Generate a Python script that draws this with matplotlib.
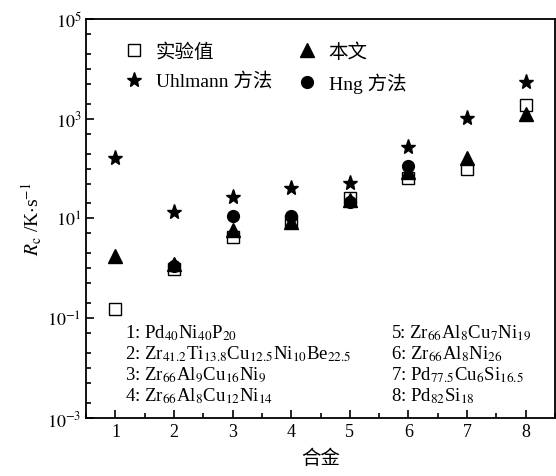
import matplotlib
matplotlib.use("Agg")
import matplotlib.pyplot as plt
import matplotlib.ticker as mticker
import numpy as np

plt.rcParams['font.family'] = ['Liberation Serif', 'Noto Sans CJK SC', 'DejaVu Sans']
plt.rcParams['mathtext.fontset'] = 'stix'

# alloy index
alloys = [1, 2, 3, 4, 5, 6, 7, 8]
# critical cooling rates, K/s
exp_vals = [0.15, 0.95, 4.2, 9.0, 26, 65, 98, 1900]
this_work = [1.8, 1.2, 5.8, 8.5, 24, 85, 165, 1250]
uhlmann = [160, 13.5, 27, 41, 51, 275, 1050, 5400]
hng = [np.nan, 1.1, 11, 11, 21, 115, np.nan, np.nan]

labels_left = [r"1: Pd$_{40}$Ni$_{40}$P$_{20}$",
               r"2: Zr$_{41.2}$Ti$_{13.8}$Cu$_{12.5}$Ni$_{10}$Be$_{22.5}$",
               r"3: Zr$_{66}$Al$_{9}$Cu$_{16}$Ni$_{9}$",
               r"4: Zr$_{66}$Al$_{8}$Cu$_{12}$Ni$_{14}$"]
labels_right = [r"5: Zr$_{66}$Al$_{8}$Cu$_{7}$Ni$_{19}$",
                r"6: Zr$_{66}$Al$_{8}$Ni$_{26}$",
                r"7: Pd$_{77.5}$Cu$_{6}$Si$_{16.5}$",
                r"8: Pd$_{82}$Si$_{18}$"]

fig = plt.figure(figsize=(5.56, 4.77), dpi=100)
ax = fig.add_axes([0.155, 0.1216, 0.843, 0.8366])

h_exp, = ax.plot(alloys, exp_vals, "s", ms=8.5, mfc="white", mec="black", mew=1.0, label="实验值", zorder=2)
h_tw, = ax.plot(alloys, this_work, "^", ms=9.5, color="black", label="本文", zorder=3)
h_uh, = ax.plot(alloys, uhlmann, "*", ms=11, color="black", label="Uhlmann 方法", zorder=4)
h_hng, = ax.plot(alloys, hng, "o", ms=8.5, color="black", label="Hng 方法", zorder=3)

ax.set_yscale("log")
ax.set_ylim(1e-3, 1e5)
ax.set_xlim(0.5, 8.5)
ax.set_xticks(alloys)
ax.xaxis.set_minor_locator(mticker.MultipleLocator(0.5))
ax.yaxis.set_major_locator(mticker.FixedLocator([1e-3, 1e-1, 1e1, 1e3, 1e5]))
ax.yaxis.set_major_formatter(mticker.FuncFormatter(lambda v, p: r"$10^{%d}$" % round(np.log10(v))))
minors = []
for e in range(-3, 5):
    for s in [2, 5, 10]:
        v = s * 10.0 ** e
        if v < 1e5 and round(np.log10(v), 6) % 2 != 1:
            minors.append(v)
ax.yaxis.set_minor_locator(mticker.FixedLocator(minors))
ax.yaxis.set_minor_formatter(mticker.NullFormatter())
ax.tick_params(which="both", direction="in", labelsize=13, width=1.2)
ax.tick_params(which="major", length=6)
ax.tick_params(which="minor", length=3.5)
for sp in ax.spines.values():
    sp.set_linewidth(1.3)

ax.set_ylabel(r"$R_\mathrm{c}$ /K$\cdot$s$^{-1}$", fontsize=14, labelpad=2)
ax.set_xlabel("合金", fontsize=14, labelpad=6)

# legend filled column-wise: square/star in first column, triangle/circle in second
ax.legend([h_exp, h_uh, h_tw, h_hng], ["实验值", "Uhlmann 方法", "本文", "Hng 方法"],
          loc="upper left", ncol=2, frameon=False, fontsize=14,
          handletextpad=0.5, columnspacing=1.2, borderaxespad=0.4,
          labelspacing=0.6, handlelength=1.2, bbox_to_anchor=(0.045, 0.98))

for i, t in enumerate(labels_left):
    ax.text(0.082, 0.215 - i * 0.053, t, transform=ax.transAxes, fontsize=13.5, va="center")
for i, t in enumerate(labels_right):
    ax.text(0.65, 0.215 - i * 0.053, t, transform=ax.transAxes, fontsize=13.5, va="center")

fig.savefig("out.png", dpi=100)
